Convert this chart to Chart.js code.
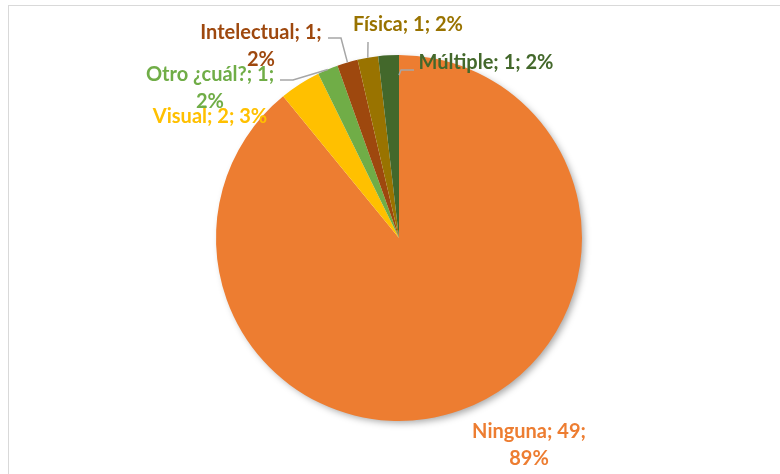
<!DOCTYPE html>
<html>
<head>
<meta charset="utf-8">
<script src="https://cdn.jsdelivr.net/npm/chart.js@4.4.1/dist/chart.umd.min.js"></script>
<style>
  html, body { margin: 0; padding: 0; background: #fff; overflow: hidden; }
  #wrap { position: relative; width: 780px; height: 474px; overflow: hidden; }
  #frame { position: absolute; left: 8px; top: 5px; width: 800px; height: 500px; border: 1px solid #d9d9d9; box-sizing: border-box; }
  canvas { position: absolute; left: 0; top: 0; }
</style>
</head>
<body>
<div id="wrap">
  <div id="frame"></div>
  <canvas id="pie" width="780" height="474"></canvas>
</div>
<script>
// data
const categories = ['Ninguna', 'Visual', 'Otro ¿cuál?', 'Intelectual', 'Física', 'Múltiple'];
const counts = [49, 2, 1, 1, 1, 1];
const percents = [89, 3, 2, 2, 2, 2];

// Office palette
const sliceColors = ['#ED7D31', '#FFC000', '#70AD47', '#9E480E', '#997300', '#43682B'];

// label placement (centre of first line) and leader elbows, one per slice
const labelLayout = [
  { x: 529, y: 432, wrap: true },
  { x: 210, y: 117, wrap: false },
  { x: 210, y: 75, wrap: true, leader: [[280, 80], [293, 80]] },
  { x: 261, y: 33, wrap: true, leader: [[328, 38], [341, 38]] },
  { x: 408, y: 25, wrap: false, leader: [[368, 42]] },
  { x: 486, y: 63, wrap: false, leader: [[414, 70], [401, 70]], at: 1, r: 0.89 }
];

const LABEL_FONT = 'bold 20px Lato, "Open Sans", sans-serif';
const LINE_H = 27;

const shadowPlugin = {
  id: 'pieShadow',
  beforeDatasetsDraw(chart) {
    const arc = chart.getDatasetMeta(0).data[0];
    if (!arc) return;
    const ctx = chart.ctx;
    ctx.save();
    ctx.shadowColor = 'rgba(0,0,0,0.35)';
    ctx.shadowBlur = 7;
    ctx.shadowOffsetX = 3;
    ctx.shadowOffsetY = 3;
    ctx.fillStyle = '#ffffff';
    ctx.beginPath();
    ctx.arc(arc.x, arc.y, arc.outerRadius - 1, 0, Math.PI * 2);
    ctx.fill();
    ctx.restore();
  }
};

const labelPlugin = {
  id: 'excelLabels',
  afterDatasetsDraw(chart) {
    const ctx = chart.ctx;
    const meta = chart.getDatasetMeta(0);
    ctx.save();
    meta.data.forEach((arc, i) => {
      const lay = labelLayout[i];
      // leader line to the slice
      if (lay.leader) {
        const f = lay.at !== undefined ? lay.at : 0.5;
        const ang = arc.startAngle + (arc.endAngle - arc.startAngle) * f;
        const rr = arc.outerRadius * (lay.r || 1);
        const px = arc.x + Math.cos(ang) * rr;
        const py = arc.y + Math.sin(ang) * rr;
        ctx.strokeStyle = '#a6a6a6';
        ctx.lineWidth = 1.5;
        ctx.beginPath();
        ctx.moveTo(lay.leader[0][0], lay.leader[0][1]);
        lay.leader.slice(1).forEach(p => ctx.lineTo(p[0], p[1]));
        ctx.lineTo(px, py);
        ctx.stroke();
      }
      const lines = lay.wrap
        ? [categories[i] + '; ' + counts[i] + ';', percents[i] + '%']
        : [categories[i] + '; ' + counts[i] + '; ' + percents[i] + '%'];
      ctx.font = LABEL_FONT;
      ctx.fillStyle = sliceColors[i];
      ctx.textAlign = 'center';
      ctx.textBaseline = 'middle';
      lines.forEach((t, k) => ctx.fillText(t, lay.x, lay.y + k * LINE_H));
    });
    ctx.restore();
  }
};

new Chart(document.getElementById('pie'), {
  type: 'pie',
  data: {
    labels: categories,
    datasets: [{ data: counts, backgroundColor: sliceColors, borderWidth: 0 }]
  },
  options: {
    responsive: false,
    animation: false,
    layout: { padding: { left: 216, right: 198, top: 55, bottom: 53 } },
    plugins: { legend: { display: false }, tooltip: { enabled: false } }
  },
  plugins: [shadowPlugin, labelPlugin]
});
</script>
</body>
</html>
